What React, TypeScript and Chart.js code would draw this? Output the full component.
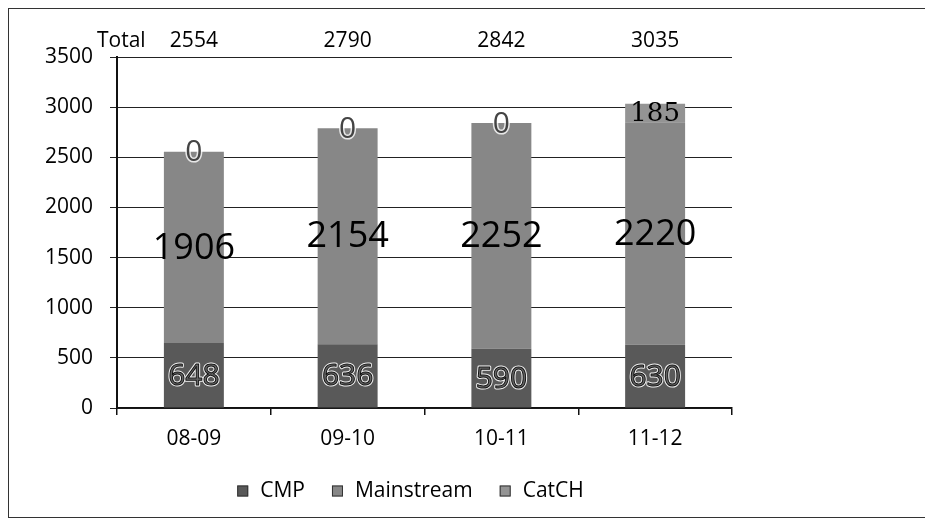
import React, { useEffect, useRef } from "react";
import { Chart, registerables } from "chart.js";

Chart.register(...registerables);

const categories = ["08-09", "09-10", "10-11", "11-12"];
const cmpValues = [648, 636, 590, 630];
const mainstreamValues = [1906, 2154, 2252, 2220];
const catchValues = [0, 0, 0, 185];
const totalValues = [2554, 2790, 2842, 3035];
const seriesNames = ["CMP", "Mainstream", "CatCH"];
const seriesColors = ["#595959", "#878787", "#949494"];
const yMin = 0;
const yMax = 3500;
const yStep = 500;

const FONT = "'Open Sans', 'DejaVu Sans', sans-serif";
const TXT = 21;

const segmentLabels = {
  id: "segmentLabels",
  afterDatasetsDraw(chart: any) {
    const ctx = chart.ctx;
    ctx.save();
    ctx.textAlign = "center";
    ctx.textBaseline = "middle";
    chart.data.datasets.forEach((ds: any, di: number) => {
      const meta = chart.getDatasetMeta(di);
      meta.data.forEach((el: any, i: number) => {
        const v = ds.data[i];
        const cx = el.x;
        const cy = (el.y + el.base) / 2 + 1;
        const txt = String(v);
        if (di === 0) {
          ctx.font = `30px ${FONT}`;
          ctx.lineJoin = "round";
          ctx.strokeStyle = "rgba(255,255,255,0.9)";
          ctx.lineWidth = 3;
          ctx.strokeText(txt, cx, cy);
          ctx.fillStyle = "#666";
          ctx.fillText(txt, cx, cy);
          ctx.strokeStyle = "#111";
          ctx.lineWidth = 1;
          ctx.strokeText(txt, cx, cy);
        } else if (di === 1) {
          ctx.font = `36px ${FONT}`;
          ctx.fillStyle = "#000";
          ctx.fillText(txt, cx, cy);
        } else {
          if (v === 0) {
            ctx.font = `30px ${FONT}`;
            ctx.lineJoin = "round";
            ctx.strokeStyle = "rgba(255,255,255,0.8)";
            ctx.lineWidth = 3;
            ctx.strokeText(txt, cx, cy);
            ctx.fillStyle = "#444";
            ctx.fillText(txt, cx, cy);
          } else {
            ctx.font = `26px 'DejaVu Serif', serif`;
            ctx.fillStyle = "#000";
            ctx.fillText(txt, cx, cy);
          }
        }
      });
    });
    ctx.restore();
  },
};

const totalsRow = {
  id: "totalsRow",
  afterDraw(chart: any) {
    const ctx = chart.ctx;
    const area = chart.chartArea;
    const xs = chart.scales.x;
    const y = area.top - 16;
    ctx.save();
    ctx.font = `${TXT}px ${FONT}`;
    ctx.fillStyle = "#000";
    ctx.textBaseline = "middle";
    ctx.textAlign = "left";
    ctx.fillText("Total", area.left - 20, y);
    ctx.textAlign = "center";
    totalValues.forEach((t, i) => {
      ctx.fillText(String(t), xs.getPixelForValue(i), y);
    });
    ctx.restore();
  },
};

const bottomLegend = {
  id: "bottomLegend",
  afterDraw(chart: any) {
    const ctx = chart.ctx;
    const area = chart.chartArea;
    ctx.save();
    ctx.font = `${TXT}px ${FONT}`;
    ctx.textBaseline = "middle";
    ctx.textAlign = "left";
    const box = 11;
    const gap = 12;
    const spacing = 27;
    const widths = seriesNames.map((n) => box + gap + ctx.measureText(n).width);
    const total = widths.reduce((a, b) => a + b, 0) + spacing * (seriesNames.length - 1);
    let x = (area.left + area.right) / 2 - 14 - total / 2;
    const y = area.bottom + 83;
    seriesNames.forEach((n, i) => {
      ctx.fillStyle = seriesColors[i];
      ctx.fillRect(x, y - box / 2, box, box);
      ctx.strokeStyle = "#333";
      ctx.lineWidth = 1;
      ctx.strokeRect(x + 0.5, y - box / 2 + 0.5, box - 1, box - 1);
      ctx.fillStyle = "#000";
      ctx.fillText(n, x + box + gap, y);
      x += widths[i] + spacing;
    });
    ctx.restore();
  },
};

export default function App() {
  const ref = useRef<HTMLCanvasElement | null>(null);

  useEffect(() => {
    if (!ref.current) return;
    const chart = new Chart(ref.current, {
      type: "bar",
      data: {
        labels: categories,
        datasets: [
          { label: seriesNames[0], data: cmpValues, backgroundColor: seriesColors[0], borderWidth: 0 },
          { label: seriesNames[1], data: mainstreamValues, backgroundColor: seriesColors[1], borderWidth: 0 },
          { label: seriesNames[2], data: catchValues, backgroundColor: seriesColors[2], borderWidth: 0 },
        ],
      },
      options: {
        animation: false,
        responsive: true,
        maintainAspectRatio: false,
        layout: { padding: { top: 48, right: 193, bottom: 0, left: 0 } },
        plugins: {
          legend: { display: false },
          tooltip: { enabled: false },
        },
        datasets: {
          bar: { barPercentage: 0.39, categoryPercentage: 1.0 },
        },
        scales: {
          x: {
            stacked: true,
            offset: true,
            afterFit: (s: any) => {
              s.height = 109;
            },
            grid: {
              display: true,
              drawOnChartArea: false,
              drawTicks: true,
              tickLength: 7,
              color: "#111",
              lineWidth: 1.5,
              offset: true,
            },
            border: { display: true, color: "#111", width: 1.5 },
            ticks: {
              color: "#000",
              font: { family: FONT, size: TXT },
              padding: 11,
            },
          },
          y: {
            stacked: true,
            min: yMin,
            max: yMax,
            afterFit: (s: any) => {
              s.width = 108;
            },
            grid: {
              color: "#222",
              lineWidth: 1,
              drawTicks: true,
              tickLength: 7,
            },
            border: { display: true, color: "#111", width: 2 },
            ticks: {
              stepSize: yStep,
              color: "#000",
              font: { family: FONT, size: TXT },
              padding: 17,
              callback: (v: any) => String(v),
            },
          },
        },
      },
      plugins: [segmentLabels, totalsRow, bottomLegend],
    });
    return () => chart.destroy();
  }, []);

  return (
    <div
      style={{
        width: 918,
        height: 510,
        border: "1px solid #333",
        boxSizing: "border-box",
        position: "relative",
        background: "#fff",
      }}
    >
      <canvas ref={ref} />
    </div>
  );
}
